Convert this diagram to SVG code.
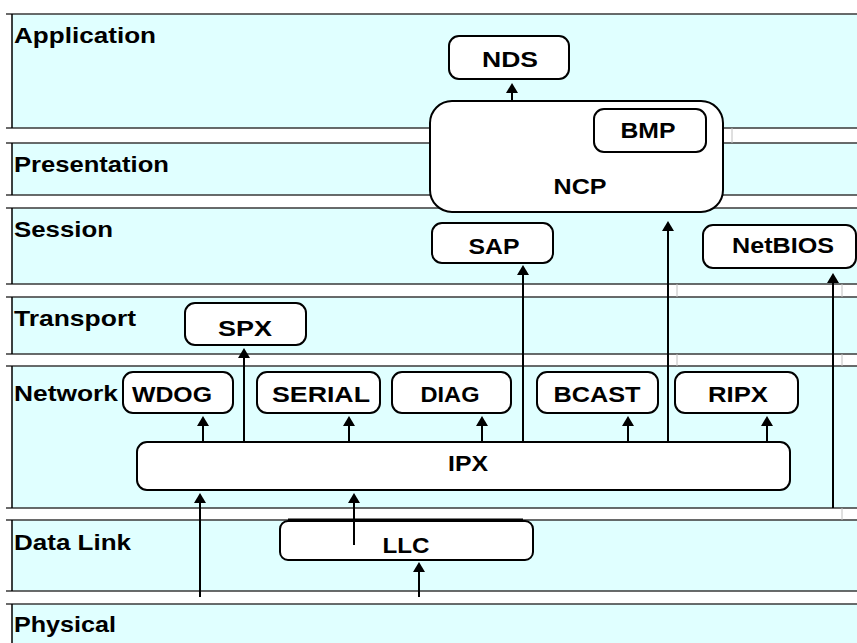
<svg xmlns="http://www.w3.org/2000/svg" width="857" height="643" viewBox="0 0 857 643">
  <style>
    .band { fill: #e0ffff; stroke: none; }
    .edge { stroke: #3a3a3a; stroke-width: 1.5; fill: none; }
    .side { stroke: #000; stroke-width: 1.5; fill: none; }
    .seam { stroke: #c0c0c0; stroke-width: 1; fill: none; }
    .box { fill: #fff; stroke: #000; stroke-width: 2; }
    .layer { font-family: "Liberation Sans", Arial, sans-serif; font-weight: bold; font-size: 22px; fill: #000; }
    .lbl { font-family: "Liberation Sans", Arial, sans-serif; font-weight: bold; font-size: 22px; fill: #000; text-anchor: middle; }
    .conn { stroke: #000; stroke-width: 2; fill: none; marker-end: url(#head); }
  </style>
  <defs>
    <marker id="head" markerUnits="userSpaceOnUse" viewBox="0 0 10 12" markerWidth="10" markerHeight="12" refX="7" refY="6" orient="auto">
      <path d="M0,0 L10,6 L0,12 z" fill="#000"/>
    </marker>
  </defs>

  <rect width="857" height="643" fill="#fff"/>

  <!-- OSI layer bands -->
  <g id="layers">
    <g id="layer-application">
      <rect class="band" x="12" y="14" width="845" height="114"/>
      <path class="edge" d="M6,14 H857 M6,128 H857"/>
      <path class="side" d="M12,14 V128"/>
      <text class="layer" x="14" y="43" textLength="142" lengthAdjust="spacingAndGlyphs">Application</text>
    </g>
    <g id="layer-presentation">
      <rect class="band" x="12" y="143" width="845" height="52"/>
      <path class="edge" d="M6,143 H857 M6,195 H857"/>
      <path class="side" d="M12,143 V195"/>
      <text class="layer" x="14" y="172" textLength="155" lengthAdjust="spacingAndGlyphs">Presentation</text>
    </g>
    <g id="layer-session">
      <rect class="band" x="12" y="208" width="845" height="76"/>
      <path class="edge" d="M6,208 H857 M6,284 H857"/>
      <path class="side" d="M12,208 V284"/>
      <text class="layer" x="14" y="237" textLength="99" lengthAdjust="spacingAndGlyphs">Session</text>
    </g>
    <g id="layer-transport">
      <rect class="band" x="12" y="297" width="845" height="57"/>
      <path class="edge" d="M6,297 H857 M6,354 H857"/>
      <path class="side" d="M12,297 V354"/>
      <text class="layer" x="14" y="326" textLength="122" lengthAdjust="spacingAndGlyphs">Transport</text>
    </g>
    <g id="layer-network">
      <rect class="band" x="12" y="366" width="845" height="142"/>
      <path class="edge" d="M6,366 H857 M6,508 H857"/>
      <path class="side" d="M12,366 V508"/>
      <text class="layer" x="14" y="401" textLength="104" lengthAdjust="spacingAndGlyphs">Network</text>
    </g>
    <g id="layer-datalink">
      <rect class="band" x="12" y="520" width="845" height="71"/>
      <path class="edge" d="M6,520 H857 M6,591 H857"/>
      <path class="side" d="M12,520 V591"/>
      <text class="layer" x="14" y="550" textLength="117" lengthAdjust="spacingAndGlyphs">Data Link</text>
    </g>
    <g id="layer-physical">
      <rect class="band" x="12" y="604" width="845" height="45"/>
      <path class="edge" d="M6,604 H857"/>
      <path class="side" d="M12,604 V643"/>
      <text class="layer" x="14" y="632" textLength="102" lengthAdjust="spacingAndGlyphs">Physical</text>
    </g>
    <!-- light seams between band segments -->
    <path class="seam" d="M732,128 V143 M677,284 V297 M842,284 V297 M677,354 V366 M842,354 V366 M842,508 V520"/>
  </g>

  <!-- protocol nodes -->
  <g id="ncp">
    <rect class="box" x="430" y="101" width="293" height="111" rx="22" ry="22"/>
    <text class="lbl" x="580" y="194" textLength="53" lengthAdjust="spacingAndGlyphs">NCP</text>
  </g>
  <g id="bmp">
    <rect class="box" x="594" y="109" width="112" height="43" rx="10" ry="10"/>
    <text class="lbl" x="648" y="138" textLength="55" lengthAdjust="spacingAndGlyphs">BMP</text>
  </g>
  <g id="nds">
    <rect class="box" x="449" y="36" width="120" height="43" rx="10" ry="10"/>
    <text class="lbl" x="510" y="67" textLength="56" lengthAdjust="spacingAndGlyphs">NDS</text>
  </g>
  <g id="sap">
    <rect class="box" x="432" y="223" width="121" height="40" rx="10" ry="10"/>
    <text class="lbl" x="494" y="254" textLength="51" lengthAdjust="spacingAndGlyphs">SAP</text>
  </g>
  <g id="netbios">
    <rect class="box" x="703" y="225" width="153" height="43" rx="10" ry="10"/>
    <text class="lbl" x="783" y="253" textLength="102" lengthAdjust="spacingAndGlyphs">NetBIOS</text>
  </g>
  <g id="spx">
    <rect class="box" x="185" y="303" width="121" height="42" rx="10" ry="10"/>
    <text class="lbl" x="245" y="336" textLength="54" lengthAdjust="spacingAndGlyphs">SPX</text>
  </g>
  <g id="wdog">
    <rect class="box" x="123" y="372" width="110" height="41" rx="10" ry="10"/>
    <text class="lbl" x="172" y="402" textLength="80" lengthAdjust="spacingAndGlyphs">WDOG</text>
  </g>
  <g id="serial">
    <rect class="box" x="257" y="372" width="123" height="41" rx="10" ry="10"/>
    <text class="lbl" x="321" y="402" textLength="98" lengthAdjust="spacingAndGlyphs">SERIAL</text>
  </g>
  <g id="diag">
    <rect class="box" x="392" y="372" width="119" height="41" rx="10" ry="10"/>
    <text class="lbl" x="450" y="402" textLength="59" lengthAdjust="spacingAndGlyphs">DIAG</text>
  </g>
  <g id="bcast">
    <rect class="box" x="537" y="372" width="121" height="41" rx="10" ry="10"/>
    <text class="lbl" x="597" y="402" textLength="87" lengthAdjust="spacingAndGlyphs">BCAST</text>
  </g>
  <g id="ripx">
    <rect class="box" x="675" y="372" width="123" height="41" rx="10" ry="10"/>
    <text class="lbl" x="738" y="402" textLength="60" lengthAdjust="spacingAndGlyphs">RIPX</text>
  </g>
  <g id="ipx">
    <rect class="box" x="137" y="442" width="653" height="48" rx="10" ry="10"/>
    <text class="lbl" x="468" y="471" textLength="40" lengthAdjust="spacingAndGlyphs">IPX</text>
  </g>
  <g id="llc">
    <rect class="box" x="280" y="521" width="253" height="39" rx="8" ry="8"/>
    <path d="M288,520 H523" stroke="#000" stroke-width="3"/>
    <text class="lbl" x="406" y="553" textLength="47" lengthAdjust="spacingAndGlyphs">LLC</text>
  </g>

  <!-- connectors (upward data flow) -->
  <g id="connectors">
    <path class="conn" d="M512,101 V86"/>
    <path class="conn" d="M668,442 V224"/>
    <path class="conn" d="M523,442 V268"/>
    <path class="conn" d="M833,508 V276"/>
    <path class="conn" d="M244,442 V351"/>
    <path class="conn" d="M203,442 V419"/>
    <path class="conn" d="M349,442 V419"/>
    <path class="conn" d="M482,442 V419"/>
    <path class="conn" d="M628,442 V419"/>
    <path class="conn" d="M767,442 V419"/>
    <path class="conn" d="M200,597 V496"/>
    <path class="conn" d="M354,545 V496"/>
    <path class="conn" d="M419,597 V565"/>
  </g>
</svg>
